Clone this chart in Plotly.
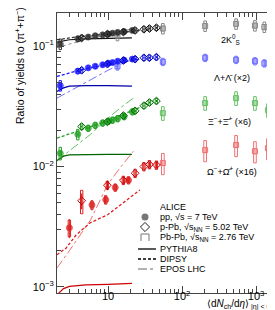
import plotly.graph_objects as go

# ---------------- data ----------------
pp_x = [2.26, 3.90, 5.40, 6.72, 8.45, 10.1, 11.5, 13.5, 16.5, 21.3]
ppb_x = [4.4, 9.8, 16.1, 23.2, 30.5, 36.2, 45.0]
pbpb_x7 = [13.4, 55, 205, 537, 966, 1294, 1601]
pbpb_x5 = [55, 205, 537, 966, 1447]
om_pp_x = [3.0, 6.06, 9.3, 12.5, 18.9]

k0s_pp = [0.104, 0.115, 0.119, 0.122, 0.124, 0.126, 0.128, 0.130, 0.132, 0.135]
k0s_ppb = [0.117, 0.126, 0.131, 0.135, 0.138, 0.140, 0.142]
k0s_pbpb = [0.123, 0.140, 0.147, 0.153, 0.148, 0.144, 0.147]

lam_pp = [0.047, 0.062, 0.066, 0.068, 0.070, 0.072, 0.073, 0.075, 0.0765, 0.078]
lam_ppb = [0.063, 0.071, 0.076, 0.078, 0.080, 0.080, 0.081]
lam_pbpb = [0.068, 0.074, 0.080, 0.077, 0.075, 0.072, 0.070]

xi_pp = [0.0129, 0.0185, 0.0208, 0.0220, 0.0230, 0.0238, 0.0243, 0.0250, 0.0260, 0.0285]
xi_ppb = [0.0215, 0.0235, 0.0265, 0.0290, 0.0320, 0.0340, 0.0350]
xi_pbpb = [0.0278, 0.0337, 0.0370, 0.0337, 0.0294]

om_pp = [0.0031, 0.0048, 0.0053, 0.0067, 0.0077]
om_ppb = [0.0052, 0.0070, 0.0077, 0.0088, 0.0100, 0.0104, 0.0103]
om_pbpb = [0.0107, 0.0137, 0.0151, 0.0134, 0.0142]

# relative uncertainties (stat, syst)
pp_stat = [0.06, 0.02, 0.02, 0.02, 0.02, 0.02, 0.02, 0.02, 0.02, 0.02]
pp_syst = [0.10, 0.05, 0.04, 0.04, 0.04, 0.04, 0.04, 0.04, 0.04, 0.04]
xi_pp_syst = [0.12, 0.10, 0.06, 0.06, 0.06, 0.06, 0.06, 0.06, 0.06, 0.06]
ppb_stat = [0.02, 0.02, 0.02, 0.02, 0.02, 0.02, 0.02]
ppb_syst = [0.05, 0.05, 0.05, 0.05, 0.05, 0.05, 0.05]
om_pp_stat = [0.18, 0.10, 0.08, 0.07, 0.06]
om_pp_syst = [0.16, 0.08, 0.08, 0.07, 0.07]
om_ppb_stat = [0.15, 0.09, 0.07, 0.06, 0.06, 0.06, 0.06]
om_ppb_syst = [0.22, 0.08, 0.08, 0.08, 0.08, 0.08, 0.08]
k0s_pbpb_syst = 0.10
lam_pbpb_syst = 0.07
xi_pbpb_syst = 0.13
om_pbpb_syst = 0.20

# model curves
pyt_x = [2.04, 2.5, 3.0, 5.0, 10.0, 21.0]
pyt_k0s = [0.108, 0.111, 0.113, 0.115, 0.116, 0.117]
pyt_lam = [0.042, 0.045, 0.0465, 0.047, 0.047, 0.0465]
pyt_xi = [0.0112, 0.0122, 0.0125, 0.0126, 0.0126, 0.0126]
pyt_om = [0.00086, 0.00097, 0.00101, 0.00104, 0.00105, 0.00107]

dip_x = [2.04, 2.7, 3.7, 5.7, 10.0, 14.5, 27.0]
dip_k0s = [0.113, 0.116, 0.119, 0.122, 0.126, 0.129, 0.135]
dip_lam = [0.056, 0.059, 0.062, 0.066, 0.070, 0.073, 0.078]
dip_xi = [0.0172, 0.0182, 0.0195, 0.0212, 0.0240, 0.0265, 0.0310]
dip_om = [0.00185, 0.0021, 0.0027, 0.0034, 0.0040, 0.0048, 0.0064]

epos_x = [2.04, 3.0, 5.8, 10.0, 15.0, 22.0]
epos_k0s = [0.097, 0.104, 0.115, 0.124, 0.132, 0.140]
epos_lam = [0.037, 0.042, 0.053, 0.063, 0.071, 0.078]
epos_xi = [0.0111, 0.0135, 0.0185, 0.0253, 0.031, 0.037]
epos_om = [0.00144, 0.0020, 0.0036, 0.0072, 0.0100, 0.0134]

FONT = "Liberation Sans, Arial, sans-serif"
DIPSY_DASH = "3px,2px"

fig = go.Figure()


def boxes(xs, ys, rel, half_dec):
    if not isinstance(rel, list):
        rel = [rel] * len(xs)
    bx, by = [], []
    f = 10 ** half_dec
    for x, y, r in zip(xs, ys, rel):
        x0, x1 = x / f, x * f
        y0, y1 = y * (1 - r), y * (1 + r)
        bx += [x0, x1, x1, x0, x0, None]
        by += [y0, y0, y1, y1, y0, None]
    return bx, by


def add_points(xs, ys, stat, syst, color, symbol, box_col, half_dec, size=6, opacity=1.0):
    bx, by = boxes(xs, ys, syst, half_dec)
    fig.add_trace(go.Scatter(x=bx, y=by, mode="lines", line=dict(color=box_col, width=1),
                             showlegend=False, hoverinfo="skip"))
    if not isinstance(stat, list):
        stat = [stat] * len(xs)
    fig.add_trace(go.Scatter(
        x=xs, y=ys, mode="markers",
        marker=dict(symbol=symbol, size=size, color=color, opacity=opacity,
                    line=dict(color=color, width=1)),
        error_y=dict(type="data", array=[y * s for y, s in zip(ys, stat)], color=color,
                     thickness=1, width=0),
        showlegend=False))


def add_curve(xs, ys, color, dash, width=1.2):
    fig.add_trace(go.Scatter(x=xs, y=ys, mode="lines", line=dict(color=color, dash=dash, width=width),
                             showlegend=False, hoverinfo="skip"))


species = [
    (k0s_pp, k0s_ppb, k0s_pbpb, pbpb_x7, k0s_pbpb_syst, pp_x, pp_stat, pp_syst, ppb_stat, ppb_syst,
     "#111111", "#333333", "#888888", pyt_k0s, dip_k0s, epos_k0s),
    (lam_pp, lam_ppb, lam_pbpb, pbpb_x7, lam_pbpb_syst, pp_x, pp_stat, pp_syst, ppb_stat, ppb_syst,
     "#0000aa", "#1a1aff", "#6f6fff", pyt_lam, dip_lam, epos_lam),
    (xi_pp, xi_ppb, xi_pbpb, pbpb_x5, xi_pbpb_syst, pp_x, pp_stat, xi_pp_syst, ppb_stat, ppb_syst,
     "#006400", "#22a022", "#66c066", pyt_xi, dip_xi, epos_xi),
    (om_pp, om_ppb, om_pbpb, pbpb_x5, om_pbpb_syst, om_pp_x, om_pp_stat, om_pp_syst, om_ppb_stat, om_ppb_syst,
     "#cc0000", "#dd2020", "#ee7070", pyt_om, dip_om, epos_om),
]

for (pp, ppb, pb, pbx, pbs, ppx, pps, ppsy, ppbs, ppbsy, dark, mid, light, pyt, dip, epo) in species:
    add_curve(epos_x, epo, light, "dashdot", 1.0)
    add_curve(dip_x, dip, mid, DIPSY_DASH, 1.3)
    add_curve(pyt_x, pyt, dark, "solid", 1.2)
    add_points(pbx, pb, 0.06, pbs, light, "square-open", light, 0.018, size=5)
    add_points(ppx, pp, pps, ppsy, mid, "circle", mid, 0.016, size=6, opacity=0.75)
    add_points(ppb_x, ppb, ppbs, ppbsy, dark, "diamond-open", mid, 0.016, size=6)


# ---------------- legend (overlay axes in paper units) ----------------
def X(px):
    return (px - 49) / 220.0


def Y(py):
    return (285 - py) / 280.0


fig.add_trace(go.Scatter(x=[X(137)], y=[Y(209)], mode="markers", xaxis="x2", yaxis="y2",
                         marker=dict(symbol="circle", size=7, color="#777777"), showlegend=False))
fig.add_trace(go.Scatter(x=[X(137)], y=[Y(219)], mode="markers", xaxis="x2", yaxis="y2",
                         marker=dict(symbol="diamond-open", size=7, color="#222222", line=dict(width=1)),
                         showlegend=False))
fig.add_trace(go.Scatter(x=[X(133), X(133), X(141), X(141)], y=[Y(233), Y(226), Y(226), Y(233)],
                         mode="lines", xaxis="x2", yaxis="y2",
                         line=dict(color="#777777", width=1), showlegend=False))
for py, dash, col in [(241, "solid", "#000000"), (251, DIPSY_DASH, "#000000"), (261, "dashdot", "#999999")]:
    fig.add_trace(go.Scatter(x=[X(130), X(148)], y=[Y(py), Y(py)], mode="lines", xaxis="x2", yaxis="y2",
                             line=dict(color=col, dash=dash, width=1.3), showlegend=False))

ann = []


def txt(px, py, s, size=9, xanchor="left", **kw):
    ann.append(dict(x=X(px), y=Y(py), xref="paper", yref="paper", text=s, showarrow=False,
                    xanchor=xanchor, yanchor="middle", font=dict(family=FONT, size=size, color="#000"), **kw))


txt(150, 199, "ALICE")
txt(150, 209, "pp, √s = 7 TeV")
txt(150, 219, "p-Pb, √s<sub>NN</sub> = 5.02 TeV")
txt(150, 229, "Pb-Pb, √s<sub>NN</sub> = 2.76 TeV")
txt(150, 241, "PYTHIA8")
txt(150, 251, "DIPSY")
txt(150, 261, "EPOS LHC")

txt(222, 31, "2K<sup>0</sup><sub>S</sub>", xanchor="center")
txt(224, 70, "Λ+Λ̄ (×2)", xanchor="center")
txt(221, 113, "Ξ<sup>−</sup>+Ξ̄<sup>+</sup> (×6)", xanchor="center")
txt(224, 163, "Ω<sup>−</sup>+Ω̄<sup>+</sup> (×16)", xanchor="center")

# axis titles
ann.append(dict(x=X(11), y=Y(58), xref="paper", yref="paper", textangle=-90, showarrow=False,
                text="Ratio of yields to (π<sup>+</sup>+π<sup>−</sup>)", xanchor="center", yanchor="middle",
                font=dict(family=FONT, size=10.5, color="#000")))
ann.append(dict(x=X(269), y=Y(303.5), xref="paper", yref="paper", showarrow=False,
                text="⟨d<i>N</i><sub>ch</sub>/d<i>η</i>⟩<sub> |η| < 0.5</sub>", xanchor="right", yanchor="bottom",
                borderpad=0, font=dict(family=FONT, size=10, color="#000")))

x_minor = [3, 4, 5, 6, 7, 8, 9, 20, 30, 40, 50, 60, 70, 80, 90, 200, 300, 400, 500, 600, 700, 800, 900]
y_minor = [0.002, 0.003, 0.004, 0.005, 0.006, 0.007, 0.008, 0.009,
           0.02, 0.03, 0.04, 0.05, 0.06, 0.07, 0.08, 0.09]

fig.update_layout(
    width=275, height=310,
    margin=dict(l=49, r=6, t=5, b=25),
    paper_bgcolor="white", plot_bgcolor="white",
    showlegend=False,
    annotations=ann,
    xaxis=dict(type="log", range=[0.31, 3.283], showgrid=False, zeroline=False,
               showline=True, linecolor="#444", linewidth=1, mirror="allticks",
               ticks="inside", ticklen=7, tickcolor="#444",
               tickvals=[10, 100, 1000], ticktext=["10", "10<sup>2</sup>", "10<sup>3</sup>"],
               tickfont=dict(family=FONT, size=11, color="#000"), ticklabelstandoff=-7,
               minor=dict(tickmode="array", tickvals=x_minor, ticks="inside", ticklen=4,
                          tickcolor="#444", showgrid=False)),
    yaxis=dict(type="log", range=[-3.05, -0.725], showgrid=False, zeroline=False,
               showline=True, linecolor="#444", linewidth=1, mirror="allticks",
               ticks="inside", ticklen=7, tickcolor="#444",
               tickvals=[0.001, 0.01, 0.1], ticktext=["10<sup>−3</sup>", "10<sup>−2</sup>", "10<sup>−1</sup>"],
               tickfont=dict(family=FONT, size=11, color="#000"),
               minor=dict(tickmode="array", tickvals=y_minor, ticks="inside", ticklen=4,
                          tickcolor="#444", showgrid=False)),
    xaxis2=dict(overlaying="x", range=[0, 1], visible=False, fixedrange=True),
    yaxis2=dict(overlaying="y", range=[0, 1], visible=False, fixedrange=True),
)

fig.write_html("out.html")
